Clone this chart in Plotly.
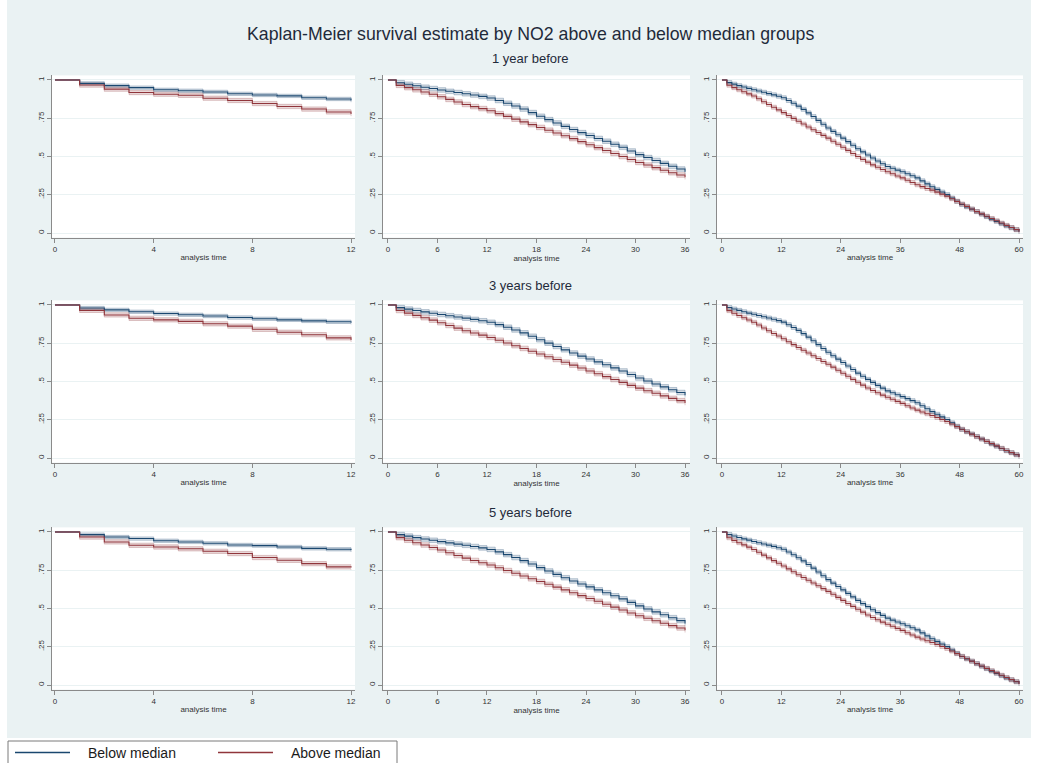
import plotly.graph_objects as go

# ---------------- data ----------------
main_title = "Kaplan-Meier survival estimate by NO2 above and below median groups"
row_titles = ["1 year before", "3 years before", "5 years before"]
group_labels = ["Below median", "Above median"]
x_title = "analysis time"

horizons = [12, 36, 60]
x_ticks_12 = [0, 4, 8, 12]
x_ticks_36 = [0, 6, 12, 18, 24, 30, 36]
x_ticks_60 = [0, 12, 24, 36, 48, 60]
y_ticks = [0, 0.25, 0.5, 0.75, 1]
y_tick_labels = ["0", ".25", ".5", ".75", "1"]

# survival at month 0..12 (value after the step at each month)
r1_12_below = [1.0, 0.978, 0.963, 0.950, 0.936, 0.930, 0.922, 0.910, 0.902, 0.896, 0.884, 0.876, 0.866]
r1_12_above = [1.0, 0.967, 0.940, 0.918, 0.907, 0.900, 0.881, 0.866, 0.846, 0.827, 0.810, 0.791, 0.778]
r2_12_below = [1.0, 0.980, 0.968, 0.956, 0.944, 0.936, 0.928, 0.918, 0.910, 0.903, 0.896, 0.890, 0.884]
r2_12_above = [1.0, 0.965, 0.935, 0.913, 0.903, 0.893, 0.877, 0.862, 0.841, 0.822, 0.806, 0.785, 0.772]
r3_12_below = [1.0, 0.983, 0.967, 0.957, 0.943, 0.935, 0.926, 0.915, 0.911, 0.902, 0.893, 0.887, 0.880]
r3_12_above = [1.0, 0.967, 0.935, 0.913, 0.902, 0.890, 0.874, 0.859, 0.833, 0.815, 0.793, 0.772, 0.768]

# survival at month 0..36
r1_36_below = [1.0, 0.982, 0.972, 0.962, 0.953, 0.944, 0.935, 0.926, 0.918, 0.910, 0.902, 0.893, 0.882,
               0.866, 0.848, 0.830, 0.810, 0.787, 0.763, 0.741, 0.719, 0.697, 0.676, 0.656, 0.637,
               0.618, 0.600, 0.580, 0.560, 0.536, 0.512, 0.493, 0.474, 0.455, 0.436, 0.418, 0.400]
r1_36_above = [1.0, 0.965, 0.950, 0.936, 0.922, 0.907, 0.890, 0.873, 0.856, 0.840, 0.826, 0.813, 0.799,
               0.780, 0.762, 0.744, 0.726, 0.708, 0.690, 0.672, 0.654, 0.636, 0.617, 0.597, 0.577,
               0.558, 0.539, 0.520, 0.500, 0.480, 0.461, 0.444, 0.427, 0.410, 0.394, 0.379, 0.365]
r2_36_below = [1.0, 0.983, 0.973, 0.964, 0.955, 0.946, 0.938, 0.930, 0.922, 0.914, 0.906, 0.897, 0.887,
               0.872, 0.855, 0.837, 0.818, 0.796, 0.773, 0.751, 0.729, 0.707, 0.686, 0.666, 0.647,
               0.628, 0.609, 0.589, 0.569, 0.546, 0.523, 0.503, 0.484, 0.465, 0.446, 0.428, 0.410]
r2_36_above = [1.0, 0.964, 0.947, 0.932, 0.917, 0.901, 0.884, 0.866, 0.849, 0.832, 0.817, 0.803, 0.788,
               0.770, 0.752, 0.734, 0.716, 0.698, 0.680, 0.662, 0.644, 0.626, 0.607, 0.588, 0.569,
               0.551, 0.532, 0.513, 0.494, 0.475, 0.457, 0.440, 0.423, 0.406, 0.390, 0.375, 0.360]
r3_36_below = [1.0, 0.983, 0.973, 0.963, 0.954, 0.946, 0.937, 0.929, 0.921, 0.913, 0.905, 0.896, 0.886,
               0.870, 0.852, 0.833, 0.813, 0.791, 0.767, 0.745, 0.723, 0.701, 0.680, 0.660, 0.641,
               0.622, 0.603, 0.583, 0.563, 0.540, 0.517, 0.497, 0.478, 0.459, 0.440, 0.421, 0.402]
r3_36_above = [1.0, 0.963, 0.946, 0.930, 0.915, 0.899, 0.882, 0.864, 0.846, 0.829, 0.814, 0.799, 0.784,
               0.766, 0.748, 0.730, 0.712, 0.694, 0.676, 0.658, 0.640, 0.622, 0.603, 0.584, 0.565,
               0.547, 0.528, 0.509, 0.490, 0.471, 0.453, 0.436, 0.420, 0.404, 0.388, 0.373, 0.358]

# survival at month 0..60
r1_60_below = [1.0, 0.983, 0.973, 0.963, 0.954, 0.945, 0.936, 0.928, 0.920, 0.911, 0.903, 0.894, 0.884,
               0.866, 0.848, 0.829, 0.808, 0.785, 0.761, 0.736, 0.711, 0.686, 0.664, 0.642, 0.620,
               0.597, 0.574, 0.551, 0.530, 0.510, 0.490, 0.471, 0.453, 0.435, 0.423, 0.411, 0.400,
               0.387, 0.374, 0.360, 0.341, 0.321, 0.302, 0.285, 0.268, 0.251, 0.229, 0.207, 0.186,
               0.171, 0.156, 0.140, 0.123, 0.107, 0.091, 0.076, 0.061, 0.046, 0.034, 0.022, 0.008]
r1_60_above = [1.0, 0.966, 0.950, 0.936, 0.923, 0.909, 0.895, 0.877, 0.858, 0.840, 0.822, 0.805, 0.787,
               0.768, 0.749, 0.730, 0.712, 0.693, 0.675, 0.657, 0.638, 0.620, 0.600, 0.580, 0.560,
               0.540, 0.520, 0.500, 0.481, 0.463, 0.445, 0.430, 0.415, 0.400, 0.387, 0.373, 0.360,
               0.345, 0.330, 0.315, 0.303, 0.291, 0.280, 0.267, 0.254, 0.241, 0.224, 0.207, 0.190,
               0.174, 0.157, 0.140, 0.125, 0.110, 0.095, 0.080, 0.065, 0.050, 0.036, 0.022, 0.008]
r2_60_below = [1.0, 0.984, 0.974, 0.965, 0.956, 0.947, 0.939, 0.931, 0.923, 0.915, 0.907, 0.898, 0.888,
               0.871, 0.853, 0.834, 0.813, 0.790, 0.766, 0.741, 0.716, 0.691, 0.668, 0.646, 0.624,
               0.601, 0.578, 0.555, 0.534, 0.514, 0.494, 0.475, 0.457, 0.439, 0.426, 0.413, 0.401,
               0.388, 0.375, 0.361, 0.342, 0.322, 0.303, 0.286, 0.269, 0.252, 0.230, 0.208, 0.187,
               0.172, 0.157, 0.141, 0.124, 0.108, 0.092, 0.077, 0.062, 0.047, 0.035, 0.022, 0.008]
r2_60_above = [1.0, 0.963, 0.946, 0.931, 0.917, 0.902, 0.887, 0.869, 0.850, 0.832, 0.814, 0.797, 0.779,
               0.760, 0.741, 0.722, 0.704, 0.686, 0.668, 0.650, 0.631, 0.613, 0.594, 0.574, 0.554,
               0.534, 0.514, 0.495, 0.476, 0.458, 0.441, 0.426, 0.411, 0.397, 0.384, 0.370, 0.357,
               0.342, 0.327, 0.313, 0.301, 0.289, 0.278, 0.265, 0.252, 0.239, 0.222, 0.205, 0.188,
               0.172, 0.156, 0.139, 0.124, 0.109, 0.094, 0.079, 0.064, 0.049, 0.035, 0.021, 0.007]
r3_60_below = [1.0, 0.984, 0.974, 0.964, 0.955, 0.947, 0.938, 0.930, 0.922, 0.914, 0.906, 0.897, 0.887,
               0.869, 0.851, 0.832, 0.811, 0.788, 0.764, 0.739, 0.714, 0.689, 0.666, 0.644, 0.622,
               0.599, 0.576, 0.553, 0.532, 0.512, 0.492, 0.473, 0.455, 0.437, 0.424, 0.412, 0.400,
               0.387, 0.374, 0.360, 0.341, 0.321, 0.302, 0.285, 0.268, 0.251, 0.229, 0.207, 0.186,
               0.171, 0.156, 0.140, 0.123, 0.107, 0.091, 0.076, 0.061, 0.046, 0.034, 0.022, 0.008]
r3_60_above = [1.0, 0.962, 0.945, 0.930, 0.916, 0.901, 0.886, 0.868, 0.849, 0.831, 0.813, 0.796, 0.778,
               0.759, 0.740, 0.721, 0.703, 0.685, 0.667, 0.649, 0.630, 0.612, 0.593, 0.573, 0.553,
               0.533, 0.514, 0.495, 0.476, 0.458, 0.441, 0.426, 0.411, 0.397, 0.384, 0.370, 0.357,
               0.342, 0.327, 0.313, 0.301, 0.289, 0.278, 0.265, 0.252, 0.239, 0.222, 0.205, 0.188,
               0.172, 0.156, 0.139, 0.124, 0.109, 0.094, 0.079, 0.064, 0.049, 0.035, 0.021, 0.007]

# approximate 95% CI half-width per horizon: (below, above)
ci_half_12 = (0.011, 0.014)
ci_half_36 = (0.015, 0.015)
ci_half_60 = (0.013, 0.013)

# ---------------- layout helpers ----------------
W, H = 1044, 763
FONT = "Arial, Liberation Sans, sans-serif"
NAVY = "#1a476f"
MAROON = "#90353b"
BG = "#eaf2f3"
AX = "#8a8a8a"

col_px = [(52, 355), (383, 690), (717, 1023)]
row_px = [(75.4, 237.6), (300.4, 462.6), (527.4, 689.6)]
x_ranges = [[-0.12, 12.16], [-0.6, 36.6], [-1.0, 60.8]]
x_tick_sets = [x_ticks_12, x_ticks_36, x_ticks_60]

panels = [
    [(r1_12_below, r1_12_above), (r1_36_below, r1_36_above), (r1_60_below, r1_60_above)],
    [(r2_12_below, r2_12_above), (r2_36_below, r2_36_above), (r2_60_below, r2_60_above)],
    [(r3_12_below, r3_12_above), (r3_36_below, r3_36_above), (r3_60_below, r3_60_above)],
]
ci_sets = [ci_half_12, ci_half_36, ci_half_60]

fig = go.Figure()
layout_axes = {}

for r in range(3):
    for c in range(3):
        idx = r * 3 + c + 1
        xa = "x" if idx == 1 else f"x{idx}"
        ya = "y" if idx == 1 else f"y{idx}"
        below, above = panels[r][c]
        months = list(range(horizons[c] + 1))
        hb, ha = ci_sets[c]
        series = [(below, hb, NAVY, "26,71,111"), (above, ha, MAROON, "144,53,59")]
        # CI bands
        for vals, h, col, rgb in series:
            lo = [v - h if v < 1 else v for v in vals]
            hi = [min(v + h, 1.0) if v < 1 else v for v in vals]
            fig.add_trace(go.Scatter(x=months, y=lo, xaxis=xa, yaxis=ya, mode="lines",
                                     line=dict(shape="hv", color=f"rgba({rgb},0.33)", width=0.8),
                                     showlegend=False, hoverinfo="skip"))
            fig.add_trace(go.Scatter(x=months, y=hi, xaxis=xa, yaxis=ya, mode="lines",
                                     line=dict(shape="hv", color=f"rgba({rgb},0.33)", width=0.8),
                                     fill="tonexty", fillcolor=f"rgba({rgb},0.19)",
                                     showlegend=False, hoverinfo="skip"))
        # survival lines
        for (vals, h, col, rgb), name in zip(series, group_labels):
            fig.add_trace(go.Scatter(x=months, y=vals, xaxis=xa, yaxis=ya, mode="lines",
                                     name=name, line=dict(shape="hv", color=col, width=1.1),
                                     showlegend=False))
        x0, x1 = col_px[c]
        y0, y1 = row_px[r]
        xkey = "xaxis" if idx == 1 else f"xaxis{idx}"
        ykey = "yaxis" if idx == 1 else f"yaxis{idx}"
        layout_axes[xkey] = dict(
            domain=[x0 / W, x1 / W], anchor=ya, range=x_ranges[c],
            tickvals=x_tick_sets[c], ticktext=[str(t) for t in x_tick_sets[c]],
            showline=True, linecolor=AX, linewidth=1, ticks="outside", ticklen=4,
            tickcolor=AX, tickwidth=1, showgrid=False, zeroline=False,
            tickfont=dict(size=8, color="#333333", family=FONT),
            title=dict(text=x_title, font=dict(size=8, color="#333333", family=FONT), standoff=1),
        )
        layout_axes[ykey] = dict(
            domain=[1 - y1 / H, 1 - y0 / H], anchor=xa, range=[-0.03, 1.03],
            tickvals=y_ticks, ticktext=y_tick_labels, tickangle=-90,
            showline=True, linecolor=AX, linewidth=1, ticks="outside", ticklen=4,
            tickcolor=AX, tickwidth=1, showgrid=True, gridcolor=BG, gridwidth=1,
            zeroline=False, tickfont=dict(size=8, color="#333333", family=FONT),
        )

annotations = [
    dict(text=main_title, x=530 / W, y=1 - 34 / H, xref="paper", yref="paper",
         showarrow=False, xanchor="center", yanchor="middle",
         font=dict(size=17.7, color="#1f2a3a", family=FONT)),
]
for t, ypx in zip(row_titles, [59, 286, 512]):
    annotations.append(dict(text=t, x=530 / W, y=1 - ypx / H, xref="paper", yref="paper",
                            showarrow=False, xanchor="center", yanchor="middle",
                            font=dict(size=13, color="#1f2a3a", family=FONT)))

# manual legend (matches Stata's long line keys)
legend_y = 752.5
annotations.append(dict(text=group_labels[0], x=86 / W, y=1 - legend_y / H, xref="paper", yref="paper",
                        showarrow=False, xanchor="left", yanchor="middle",
                        font=dict(size=14, color="#1a1a1a", family=FONT)))
annotations.append(dict(text=group_labels[1], x=289 / W, y=1 - legend_y / H, xref="paper", yref="paper",
                        showarrow=False, xanchor="left", yanchor="middle",
                        font=dict(size=14, color="#1a1a1a", family=FONT)))

shapes = [
    # white margins around the light graph region
    dict(type="rect", xref="paper", yref="paper", x0=0, x1=7 / W, y0=0, y1=1,
         fillcolor="white", line=dict(width=0), layer="below"),
    dict(type="rect", xref="paper", yref="paper", x0=1031 / W, x1=1, y0=0, y1=1,
         fillcolor="white", line=dict(width=0), layer="below"),
    dict(type="rect", xref="paper", yref="paper", x0=0, x1=1, y0=0, y1=1 - 738 / H,
         fillcolor="white", line=dict(width=0), layer="below"),
    # legend box
    dict(type="rect", xref="paper", yref="paper", x0=8 / W, x1=397 / W, y0=1 - 775 / H, y1=1 - 741 / H,
         fillcolor="white", line=dict(color="#7a7a7a", width=1)),
    dict(type="line", xref="paper", yref="paper", x0=15 / W, x1=70 / W, y0=1 - legend_y / H, y1=1 - legend_y / H,
         line=dict(color=NAVY, width=1.3)),
    dict(type="line", xref="paper", yref="paper", x0=218 / W, x1=273 / W, y0=1 - legend_y / H, y1=1 - legend_y / H,
         line=dict(color=MAROON, width=1.3)),
]

fig.update_layout(
    width=W, height=H, autosize=False,
    margin=dict(l=0, r=0, t=0, b=0),
    paper_bgcolor=BG, plot_bgcolor="white",
    showlegend=False,
    annotations=annotations, shapes=shapes,
    font=dict(family=FONT),
    **layout_axes,
)

fig.write_html("out.html", config={"displayModeBar": False},
               post_script="document.body.style.margin='0';document.body.style.padding='0';")
